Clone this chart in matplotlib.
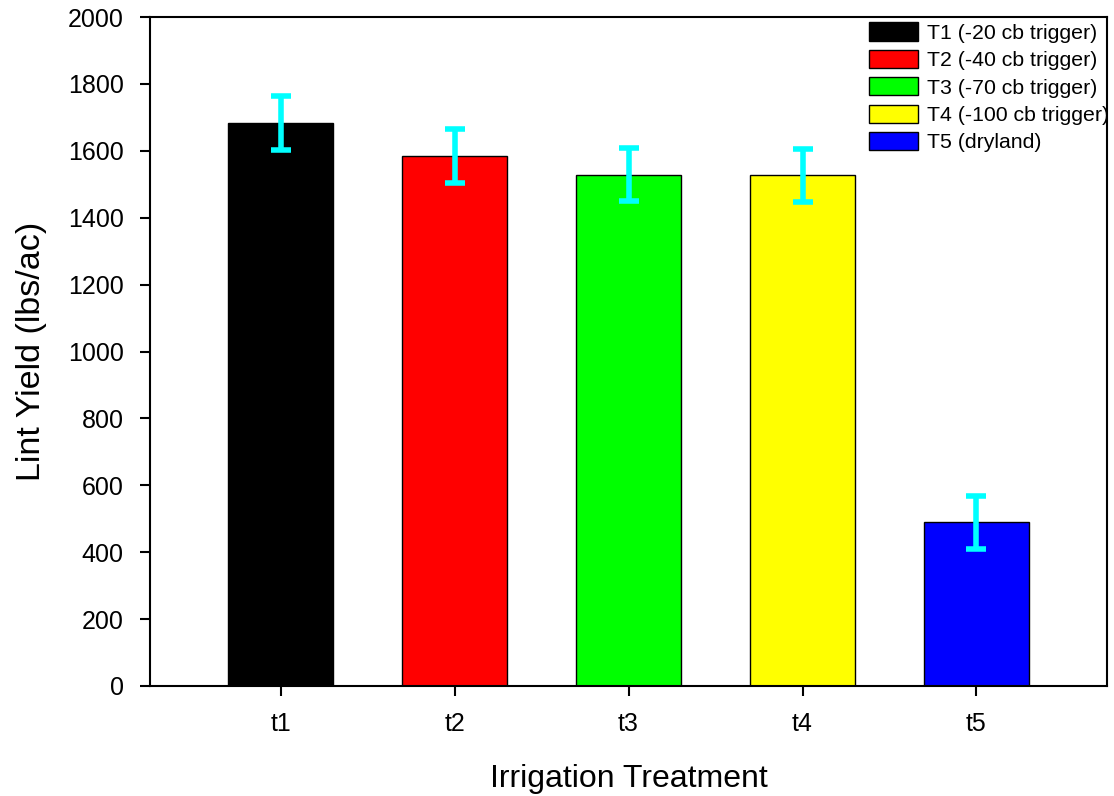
import matplotlib.pyplot as plt
import numpy as np

plt.rcParams['font.family'] = ['Liberation Sans', 'DejaVu Sans']

treatments = ['t1', 't2', 't3', 't4', 't5']
labels = ['T1 (-20 cb trigger)', 'T2 (-40 cb trigger)', 'T3 (-70 cb trigger)',
          'T4 (-100 cb trigger)', 'T5 (dryland)']
yields = [1683, 1585, 1528, 1527, 490]
errors = [80, 80, 79, 79, 79]
colors = ['#000000', '#ff0000', '#00ff00', '#ffff00', '#0000ff']

fig = plt.figure(figsize=(11.14, 7.96), dpi=100)
ax = fig.add_axes([0.1347, 0.1382, 0.859, 0.8404])

x = np.arange(1, len(treatments) + 1)
for i in range(len(x)):
    ax.bar(x[i], yields[i], width=0.6, color=colors[i], edgecolor='black',
           linewidth=1, label=labels[i], zorder=2)
ax.errorbar(x, yields, yerr=errors, fmt='none', ecolor='#00ffff',
            elinewidth=4, capsize=7, capthick=4, zorder=3)

ax.set_xlim(0.25, 5.75)
ax.set_ylim(0, 2000)
ax.set_yticks(np.arange(0, 2001, 200))
ax.set_xticks(x)
ax.set_xticklabels(treatments)
ax.tick_params(direction='out', length=7, width=1.5, labelsize=18)
ax.tick_params(axis='y', pad=12)
ax.tick_params(axis='x', pad=12)
for s in ax.spines.values():
    s.set_linewidth(1.5)

ax.set_xlabel('Irrigation Treatment', fontsize=23, labelpad=20)
ax.set_ylabel('Lint Yield (lbs/ac)', fontsize=24.5, labelpad=15)

ax.legend(loc='upper left', bbox_to_anchor=(0.7513, 0.992), frameon=False,
          fontsize=15.3, borderpad=0, borderaxespad=0, handlelength=2.3,
          handleheight=0.94, labelspacing=0.33, handletextpad=0.45)

fig.savefig('out.png', dpi=100)
